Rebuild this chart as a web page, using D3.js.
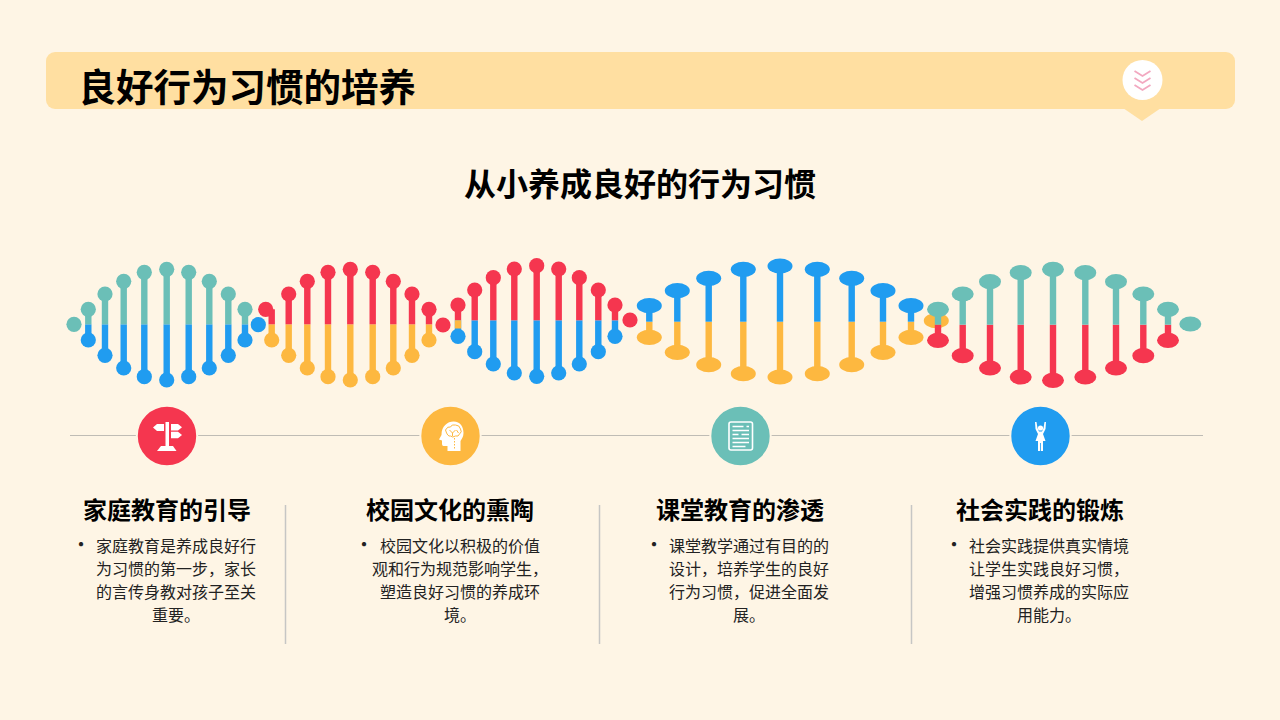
<!DOCTYPE html>
<html>
<head>
<meta charset="utf-8">
<script src="https://cdn.jsdelivr.net/npm/d3@7"></script>
<style>
    html, body { margin: 0; padding: 0; background: #fef5e5; }
    svg { display: block; }
    text { font-family: "Noto Sans CJK SC", sans-serif; }
</style>
</head>
<body>
<div id="chart"></div>
<script>
// Helix values, x = position along the helix, y = level (0 bottom .. 130 top)
let tealBlueX = [18.3, 35, 53.7, 74.3, 96.7, 118.7, 139.3, 158.3, 175];
let tealBlueTop = [80.7, 96, 108.7, 117.7, 120.7, 117.7, 108.7, 96, 80.7];
let tealBlueBottom = [50, 34.7, 22, 13.3, 10, 13.3, 22, 34.7, 50];

let redYellowX = [201.7, 218.7, 237.3, 258, 280.3, 302.7, 323.3, 342, 359];
let redYellowHeadX = [195.7, 218.7, 237.3, 258, 280.3, 302.7, 323.3, 342, 359];
let redYellowTop = [80.7, 96, 108.7, 117.7, 120.7, 117.7, 108.7, 96, 80.7];
let redYellowBottom = [50, 34.7, 22, 13.3, 10, 13.3, 22, 34.7, 50];

let redBlueX = [388, 404.7, 423.3, 444.3, 466.7, 488.7, 509.3, 528.3, 545];
let redBlueTop = [85, 100, 112.3, 121, 124.3, 121, 112.3, 100, 85];
let redBlueBottom = [53.7, 38.3, 26, 17, 13.7, 17, 26, 38.3, 53.7];

let blueYellowX = [579.3, 607.3, 638.7, 673.3, 710, 747.3, 781.7, 813, 841];
let blueYellowTop = [84.3, 99.3, 111.7, 120.7, 124, 120.7, 111.7, 99.3, 84.3];
let blueYellowBottom = [52.7, 37.7, 25.3, 16.3, 13, 16.3, 25.3, 37.7, 52.7];

let tealRedX = [868, 892.7, 920, 950.7, 983, 1015.3, 1046, 1073.3, 1098];
let tealRedTop = [80.7, 96, 108.3, 117.3, 120.7, 117.3, 108.3, 96, 80.7];
let tealRedBottom = [49.7, 34.3, 22, 13, 9.7, 13, 22, 34.3, 49.7];

// strand split levels and loose end dots
let splitLevels = [65.7, 65.7, 69.7, 68.3, 65.3];
let endDotX = [4, 188.3, 373, 560];
let endDotY = [65.7, 65.3, 65, 70];
let endDotKind = ["teal", "blue", "red", "red"];

let headings = ["家庭教育的引导", "校园文化的熏陶", "课堂教育的渗透", "社会实践的锻炼"];
let bodyLines = [
    ["家庭教育是养成良好行", "为习惯的第一步，家长", "的言传身教对孩子至关", "重要。"],
    ["校园文化以积极的价值", "观和行为规范影响学生，", "塑造良好习惯的养成环", "境。"],
    ["课堂教学通过有目的的", "设计，培养学生的良好", "行为习惯，促进全面发", "展。"],
    ["社会实践提供真实情境", "让学生实践良好习惯，", "增强习惯养成的实际应", "用能力。"]
];

let colors = { teal: "#6bbfb7", blue: "#209cf0", red: "#f5364f", yellow: "#fdb840" };
let bg = "#fef5e5";

let width = 1280;
let height = 720;

let svg = d3.select("#chart")
    .append("svg")
    .attr("width", width)
    .attr("height", height)
    .attr("viewBox", "0 0 1280 720");

svg.append("rect").attr("width", width).attr("height", height).attr("fill", bg);

/* Graph Scales */
let xScale = d3.scaleLinear().domain([0, 1130]).range([70, 1200]);
let yScale = d3.scaleLinear().domain([0, 130]).range([390, 260]);

/* Header banner */
svg.append("rect")
    .attr("x", 46).attr("y", 52)
    .attr("width", 1189).attr("height", 57)
    .attr("rx", 9)
    .attr("fill", "#ffdfa1");
svg.append("path").attr("d", "M1123,108 L1161,108 L1142,121 Z").attr("fill", "#ffdfa1");
svg.append("circle").attr("cx", 1142.5).attr("cy", 80).attr("r", 20).attr("fill", "#ffffff");
[-9, -2, 5].forEach(function (dy) {
    svg.append("path")
        .attr("d", "M1134.5," + (80 + dy) + " L1142.5," + (85 + dy) + " L1150.5," + (80 + dy))
        .attr("fill", "none")
        .attr("stroke", "#f2a8c0")
        .attr("stroke-width", 1.8);
});

svg.append("text")
    .attr("x", 78.5).attr("y", 101)
    .attr("font-size", 37.5).attr("font-weight", 700)
    .attr("fill", "#000000")
    .text("良好行为习惯的培养");

svg.append("text")
    .attr("x", 640).attr("y", 196)
    .attr("text-anchor", "middle")
    .attr("font-size", 32).attr("font-weight", 700)
    .attr("fill", "#000000")
    .text("从小养成良好的行为习惯");

/* One strand of the helix */
function drawStrand(xs, tops, bottoms, split, topColor, bottomColor, rx, headXs) {
    let g = svg.append("g");
    let stem = 6.4;
    xs.forEach(function (d, i) {
        g.append("rect")
            .attr("x", xScale(d) - stem / 2)
            .attr("y", yScale(split))
            .attr("width", stem)
            .attr("height", yScale(bottoms[i]) - yScale(split))
            .attr("fill", bottomColor);
        g.append("ellipse")
            .attr("cx", xScale(d))
            .attr("cy", yScale(bottoms[i]))
            .attr("rx", rx).attr("ry", 7.6)
            .attr("fill", bottomColor);
        g.append("rect")
            .attr("x", xScale(d) - stem / 2)
            .attr("y", yScale(tops[i]))
            .attr("width", stem)
            .attr("height", yScale(split) - yScale(tops[i]))
            .attr("fill", topColor);
        g.append("ellipse")
            .attr("cx", headXs ? xScale(headXs[i]) : xScale(d))
            .attr("cy", yScale(tops[i]))
            .attr("rx", rx).attr("ry", 7.6)
            .attr("fill", topColor);
    });
}

drawStrand(tealBlueX, tealBlueTop, tealBlueBottom, splitLevels[0], colors.teal, colors.blue, 7.6);
drawStrand(redYellowX, redYellowTop, redYellowBottom, splitLevels[1], colors.red, colors.yellow, 7.6, redYellowHeadX);
drawStrand(redBlueX, redBlueTop, redBlueBottom, splitLevels[2], colors.red, colors.blue, 7.6);
// small yellow leftover on the first red/blue rung
svg.append("rect")
    .attr("x", xScale(388) - 3.2).attr("y", yScale(69.7))
    .attr("width", 6.4).attr("height", yScale(61.5) - yScale(69.7))
    .attr("fill", colors.yellow);
drawStrand(blueYellowX, blueYellowTop, blueYellowBottom, splitLevels[3], colors.blue, colors.yellow, 12.5);

// yellow end of the wide strand sits under the teal/red strand
svg.append("ellipse")
    .attr("cx", xScale(866.3)).attr("cy", yScale(69.3))
    .attr("rx", 12.5).attr("ry", 7.6)
    .attr("fill", colors.yellow);
drawStrand(tealRedX, tealRedTop, tealRedBottom, splitLevels[4], colors.teal, colors.red, 11);
svg.append("ellipse")
    .attr("cx", xScale(1120.3)).attr("cy", yScale(66))
    .attr("rx", 11).attr("ry", 7.6)
    .attr("fill", colors.teal);

endDotX.forEach(function (d, i) {
    svg.append("circle")
        .attr("cx", xScale(d))
        .attr("cy", yScale(endDotY[i]))
        .attr("r", 7.6)
        .attr("fill", colors[endDotKind[i]]);
});

/* Timeline */
let lineY = 436;
let nodeX = [167, 450.5, 740.5, 1040.5];
let nodeColors = [colors.red, colors.yellow, colors.teal, colors.blue];

svg.append("line")
    .attr("x1", 70).attr("x2", 1203)
    .attr("y1", lineY - 0.5).attr("y2", lineY - 0.5)
    .attr("stroke", "#bfbcb5")
    .attr("stroke-width", 1.2);

let nodes = svg.selectAll(".node")
    .data(nodeX)
    .enter()
    .append("g")
    .attr("class", "node")
    .attr("transform", function (d) { return "translate(" + d + "," + lineY + ")"; });

nodes.append("circle")
    .attr("r", 30.2)
    .attr("fill", function (d, i) { return nodeColors[i]; })
    .attr("stroke", bg)
    .attr("stroke-width", 2);

// signpost icon
let sign = d3.select(nodes.nodes()[0]).attr("fill", "#ffffff");
sign.append("path").attr("d", "M-1.5,-14 h3.5 v24 h-3.5 Z");
sign.append("path").attr("d", "M-3,-12 h-7 l-4,3.5 l4,3.5 h7 Z");
sign.append("path").attr("d", "M4,-12 h7 l4,3.2 l-4,3.2 h-7 Z");
sign.append("path").attr("d", "M4,-4.2 h7 l4,3.2 l-4,3.2 h-7 Z");
sign.append("path").attr("d", "M-10,15 L-6,10 H6 L9.5,15 Z");

// head with brain icon
let brain = d3.select(nodes.nodes()[1]);
brain.append("path")
    .attr("fill", "#ffffff")
    .attr("d", "M-3,15 L-3,10 L-7,10 Q-8.5,10 -8.5,8 L-8.5,4.5 L-11.5,3.5 L-9,-1 C-9,-10 -3,-14.5 3,-14.5 C10,-14.5 13,-9 13,-3 C13,1 11,3 10,5 L10,15 Z");
brain.append("path")
    .attr("fill", "none")
    .attr("stroke", colors.yellow)
    .attr("stroke-width", 1)
    .attr("d", "M-5,-6 q2,-4 5,-3 q1,-3 5,-2 q4,0 5,4 q2,3 -1,5 q-1,3 -4,2 q-3,2 -5,0 q-3,1 -5,-6 M-1,-6 l3,3 l3,-3 M2,-3 v3 M6,-6 l2,3");
brain.append("path")
    .attr("fill", "none")
    .attr("stroke", colors.yellow)
    .attr("stroke-width", 1)
    .attr("stroke-dasharray", "1.5 1.5")
    .attr("d", "M4,2 V14");

// document icon
let doc = d3.select(nodes.nodes()[2]);
doc.append("rect")
    .attr("x", -11.5).attr("y", -14)
    .attr("width", 23.5).attr("height", 28)
    .attr("rx", 2)
    .attr("fill", "none")
    .attr("stroke", "#ffffff")
    .attr("stroke-width", 1.6);
doc.append("path")
    .attr("fill", "none")
    .attr("stroke", "#ffffff")
    .attr("stroke-width", 1.5)
    .attr("d", "M-8,-9.5 H3 M6,-9.5 H8.5 M-8,-5.5 H8.5 M-8,-1.5 H-2 M1,-1.5 H8.5 M-8,2.5 H8.5 M-8,6.5 H8.5 M-8,10.5 H5");

// person with raised arms icon
let person = d3.select(nodes.nodes()[3]).attr("fill", "#ffffff");
person.append("circle").attr("cy", -8).attr("r", 2.6);
person.append("path").attr("d", "M-5.5,-14 L-4,-14 L-3,-8 L-1.5,-4.5 H1.5 L3,-8 L4,-14 L5.5,-14 L5,-7 L2.5,-2 L5,5 H2.5 V15 H0.4 V7 H-0.4 V15 H-2.5 V5 H-5 L-2.5,-2 L-5,-7 Z");

/* Columns of text */
let headingX = [167, 450, 740, 1040];
let bodyX = [176, 460, 749, 1049];
let bulletX = [81, 364, 654, 954];
let dividerX = [285.5, 599.5, 911.5];

headings.forEach(function (d, i) {
    svg.append("text")
        .attr("x", headingX[i]).attr("y", 519)
        .attr("text-anchor", "middle")
        .attr("font-size", 24).attr("font-weight", 700)
        .attr("fill", "#000000")
        .text(d);
    svg.append("text")
        .attr("x", bulletX[i]).attr("y", 552)
        .attr("text-anchor", "middle")
        .attr("font-size", 20)
        .attr("fill", "#222222")
        .text("•");
    bodyLines[i].forEach(function (line, j) {
        svg.append("text")
            .attr("x", bodyX[i]).attr("y", 551.5 + j * 23)
            .attr("text-anchor", "middle")
            .attr("font-size", 16)
            .attr("fill", "#222222")
            .text(line);
    });
});

dividerX.forEach(function (d) {
    svg.append("line")
        .attr("x1", d).attr("x2", d)
        .attr("y1", 505).attr("y2", 644)
        .attr("stroke", "#c6c6c4")
        .attr("stroke-width", 1.5);
});
</script>
</body>
</html>
